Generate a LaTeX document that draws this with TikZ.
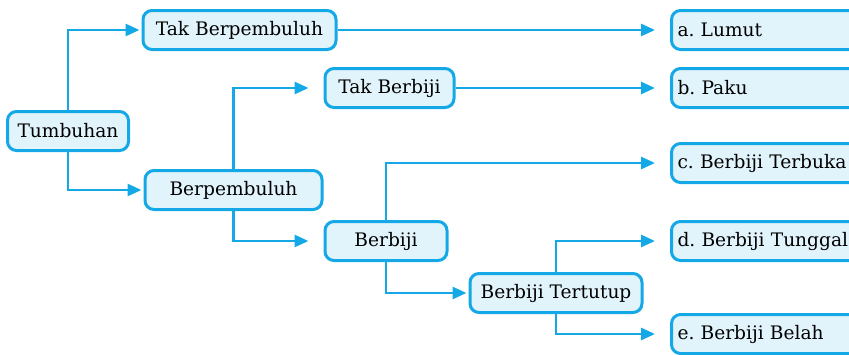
\documentclass[tikz,border=0pt]{standalone}
\usepackage{fontspec}
\setmainfont{DejaVu Serif}
\usetikzlibrary{positioning,arrows.meta}
\definecolor{lineblue}{HTML}{14A9E6}
\definecolor{boxbg}{HTML}{E1F3FB}
\tikzset{
  box/.style={draw=lineblue,fill=boxbg,rounded corners=9pt,line width=3pt,minimum height=39pt,inner xsep=6pt,font=\fontsize{18.6}{22}\selectfont},
  leaf/.style={box,anchor=west,minimum width=220pt,text width=208pt,align=left},
  flow/.style={-{Triangle[length=14pt,width=12pt]},line width=2.8pt,draw=lineblue,shorten >=2pt},
  gap/.style={flow,shorten >=15pt},
}
\begin{document}
\begin{tikzpicture}[x=1pt,y=-1pt]
\useasboundingbox (0,0) rectangle (849,354);
\clip (0,0) rectangle (849,354);

% ==== left and middle column ====
\node[box,minimum width=121pt] (tumbuhan) at (68,131) {Tumbuhan};
\node[box,minimum width=193pt] (takpb) at (239.5,30) {Tak Berpembuluh};
\node[box,minimum width=177pt] (pb) at (233.5,190) {Berpembuluh};
\node[box,minimum width=129pt] (takbj) at (389.5,88) {Tak Berbiji};
\node[box,minimum width=122pt] (bj) at (386,241) {Berbiji};
\node[box,minimum width=172pt] (bjt) at (556,293) {Berbiji Tertutup};

% ==== right column (cut off at the edge) ====
\node[leaf] (lumut) at (670,30) {a.\ Lumut};
\node[leaf] (paku) at (670,88) {b.\ Paku};
\node[leaf] (terbuka) at (670,163) {c.\ Berbiji Terbuka};
\node[leaf] (tunggal) at (670,241) {d.\ Berbiji Tunggal};
\node[leaf] (belah) at (670,334) {e.\ Berbiji Belah};

% ==== connectors ====
\draw[flow] (tumbuhan.north) |- (takpb.west);
\draw[flow] (tumbuhan.south) |- (pb.west);
\draw[gap] (takpb.east) -- (lumut.west);
\draw[gap] (pb.north) |- (takbj.west);
\draw[gap] (pb.south) |- (bj.west);
\draw[gap] (takbj.east) -- (paku.west);
\draw[gap] (bj.north) |- (terbuka.west);
\draw[flow] (bj.south) |- (bjt.west);
\draw[gap] (bjt.north) |- (tunggal.west);
\draw[gap] (bjt.south) |- (belah.west);

\end{tikzpicture}
\end{document}
